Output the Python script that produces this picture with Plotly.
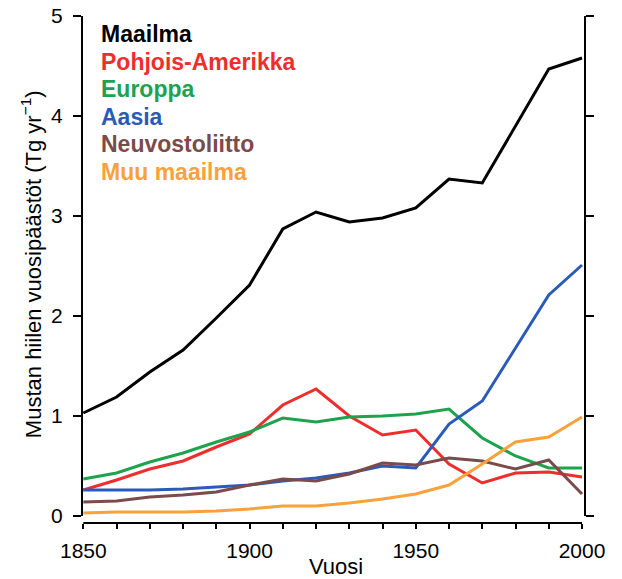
import plotly.graph_objects as go

# Decadal black-carbon emission estimates, Tg per year
years = [1850, 1860, 1870, 1880, 1890, 1900, 1910, 1920,
         1930, 1940, 1950, 1960, 1970, 1980, 1990, 2000]

maailma = [1.03, 1.19, 1.44, 1.66, 1.98, 2.31, 2.87, 3.04,
           2.94, 2.98, 3.08, 3.37, 3.33, 3.90, 4.47, 4.58]
pohjois_amerikka = [0.26, 0.36, 0.47, 0.55, 0.69, 0.82, 1.11, 1.27,
                    1.00, 0.81, 0.86, 0.52, 0.33, 0.43, 0.44, 0.39]
europpa = [0.37, 0.43, 0.54, 0.63, 0.74, 0.84, 0.98, 0.94,
           0.99, 1.00, 1.02, 1.07, 0.78, 0.60, 0.48, 0.48]
aasia = [0.26, 0.26, 0.26, 0.27, 0.29, 0.31, 0.35, 0.38,
         0.43, 0.50, 0.48, 0.92, 1.15, 1.68, 2.21, 2.51]
neuvostoliitto = [0.14, 0.15, 0.19, 0.21, 0.24, 0.31, 0.37, 0.35,
                  0.42, 0.53, 0.51, 0.58, 0.55, 0.47, 0.56, 0.22]
muu_maailma = [0.03, 0.04, 0.04, 0.04, 0.05, 0.07, 0.10, 0.10,
               0.13, 0.17, 0.22, 0.31, 0.52, 0.74, 0.79, 0.99]

series_names = ["Maailma", "Pohjois-Amerikka", "Europpa", "Aasia",
                "Neuvostoliitto", "Muu maailma"]
series_values = [maailma, pohjois_amerikka, europpa, aasia,
                 neuvostoliitto, muu_maailma]
series_colors = ["#000000", "#ee2d2d", "#1ea24e", "#2b5bb8", "#7b4a4a", "#f9a13a"]

y_ticks = [0, 1, 2, 3, 4, 5]
x_tick_vals = list(range(1850, 2001, 10))
x_tick_text = [str(v) if v % 50 == 0 else "" for v in x_tick_vals]

FONT = "Liberation Sans, Arial, sans-serif"

fig = go.Figure()
for name, vals, col in zip(series_names, series_values, series_colors):
    fig.add_trace(go.Scatter(x=years, y=vals, mode="lines", name=name,
                             line=dict(color=col, width=3)))

# In-plot colour-coded legend labels
legend_top, legend_step = 4.82, 0.276
for i, (name, col) in enumerate(zip(series_names, series_colors)):
    fig.add_annotation(text=f"<b>{name}</b>", xref="paper", yref="y",
                       x=0.034, y=legend_top - i * legend_step,
                       xanchor="left", yanchor="middle", showarrow=False,
                       font=dict(family=FONT, size=23, color=col))

# Axis titles
fig.add_annotation(text="Mustan hiilen vuosipäästöt (Tg yr<sup>−1</sup>)",
                   xref="paper", yref="paper", x=-0.1, y=0.51,
                   xanchor="center", yanchor="middle", textangle=-90,
                   showarrow=False, font=dict(family=FONT, size=22, color="black"))
fig.add_annotation(text="Vuosi", xref="paper", yref="paper", x=0.505, y=-0.085,
                   xanchor="center", yanchor="middle", showarrow=False,
                   font=dict(family=FONT, size=22, color="black"))

# Detached axis spines
line_style = dict(color="black", width=2)
fig.add_shape(type="line", xref="x domain", yref="y", x0=0, x1=0, y0=0, y1=5,
              line=line_style)
fig.add_shape(type="line", xref="x domain", yref="y", x0=1, x1=1, y0=0, y1=5,
              line=line_style)
fig.add_shape(type="line", xref="x", yref="y domain", x0=1850, x1=2000, y0=0, y1=0,
              line=line_style)

fig.update_layout(
    width=622, height=579,
    margin=dict(l=82, r=37, t=16, b=56, autoexpand=False),
    paper_bgcolor="white", plot_bgcolor="white",
    showlegend=False,
    font=dict(family=FONT, color="black"),
    xaxis=dict(range=[1849.6, 2000.9], tickvals=x_tick_vals, ticktext=x_tick_text,
               ticks="outside", ticklen=5, tickwidth=2, tickcolor="black",
               showline=False, showgrid=False, zeroline=False, mirror=False,
               automargin=False, ticklabelstandoff=4,
               tickfont=dict(size=21, family=FONT)),
    yaxis=dict(range=[-0.07, 5.0], tickvals=y_ticks,
               ticks="outside", ticklen=8, tickwidth=2, tickcolor="black",
               showline=False, showgrid=False, zeroline=False, mirror="ticks",
               automargin=False, ticklabelstandoff=6,
               tickfont=dict(size=21, family=FONT)),
)

fig.write_html("out.html")
